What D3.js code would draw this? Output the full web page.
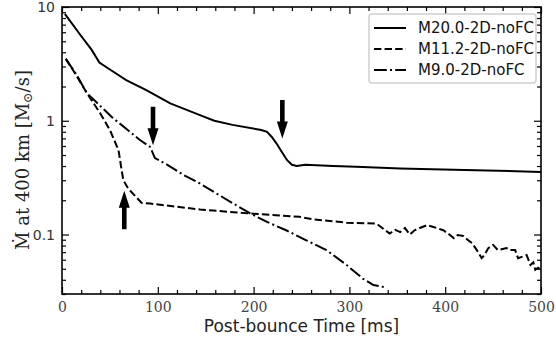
<!DOCTYPE html>
<html>
<head>
<meta charset="utf-8">
<script src="https://cdn.jsdelivr.net/npm/d3@7"></script>
<style>
  body { margin: 0; background: #fff; }
  svg { display: block; }
</style>
</head>
<body>
<div id="chart"></div>
<script>
// Post-bounce time [ms] and mass accretion rate at 400 km [Msun/s]
const timeM20 = [3, 19, 31, 39, 50, 67, 88, 113, 144, 159, 178, 208, 214, 219, 224, 229, 235, 240, 245, 254, 283, 307, 353, 420, 500];
const mdotM20 = [8.7, 5.7, 4.2, 3.25, 2.82, 2.28, 1.86, 1.42, 1.12, 1.0, 0.92, 0.83, 0.80, 0.72, 0.63, 0.54, 0.45, 0.41, 0.40, 0.41, 0.40, 0.394, 0.38, 0.37, 0.355];

const timeM11 = [4, 15, 26, 40, 50, 59, 62, 64, 69, 83, 92, 144, 196, 248, 262, 297, 328, 335, 342, 348, 353, 358, 363, 368, 381, 387, 398, 405, 409, 413, 419, 424, 428, 433, 438, 441, 445, 450, 455, 464, 468, 473, 476, 481, 485, 489, 492, 494, 497, 500];
const mdotM11 = [3.5, 2.5, 1.75, 1.16, 0.83, 0.55, 0.38, 0.30, 0.254, 0.19, 0.187, 0.166, 0.153, 0.143, 0.136, 0.127, 0.125, 0.113, 0.102, 0.11, 0.105, 0.114, 0.10, 0.109, 0.121, 0.117, 0.109, 0.099, 0.093, 0.099, 0.097, 0.089, 0.084, 0.073, 0.062, 0.066, 0.076, 0.081, 0.073, 0.076, 0.073, 0.073, 0.062, 0.064, 0.066, 0.054, 0.057, 0.049, 0.051, 0.049];

const timeM9 = [4, 15, 26, 40, 53, 67, 81, 92, 97, 110, 127, 144, 161, 178, 196, 214, 234, 255, 276, 297, 314, 325, 337];
const mdotM9 = [3.5, 2.55, 1.75, 1.35, 1.06, 0.85, 0.68, 0.59, 0.47, 0.41, 0.333, 0.281, 0.23, 0.189, 0.154, 0.129, 0.109, 0.089, 0.073, 0.054, 0.041, 0.036, 0.0344];

const seriesNames = ["M20.0-2D-noFC", "M11.2-2D-noFC", "M9.0-2D-noFC"];

// arrows: time, tail value, tip value
const arrowTime = [95, 230, 65];
const arrowFrom = [1.33, 1.52, 0.111];
const arrowTo = [0.61, 0.70, 0.242];

const xTicks = [0, 100, 200, 300, 400, 500];
const yTicks = [0.1, 1, 10];

const W = 556, H = 345;
const margin = { top: 7, right: 15, bottom: 51, left: 62 };
const width = W - margin.left - margin.right;
const height = H - margin.top - margin.bottom;

const svg = d3.select("#chart").append("svg")
  .attr("width", W)
  .attr("height", H);

const g = svg.append("g")
  .attr("transform", `translate(${margin.left},${margin.top})`);

const x = d3.scaleLinear().domain([0, 500]).range([0, width]);
const y = d3.scaleLog().domain([0.03, 10]).range([height, 0]);

// minor ticks
const xMinor = d3.range(0, 501, 20).filter(v => v % 100 !== 0);
const yMinor = [];
[0.01, 0.1, 1].forEach(d => {
  for (let k = 2; k <= 9; k++) {
    const v = k * d;
    if (v >= 0.03 - 1e-9 && v <= 10) yMinor.push(+v.toPrecision(3));
  }
});

function styleAxis(sel) {
  sel.select(".domain").remove();
  sel.selectAll(".tick line").attr("stroke", "#000").attr("stroke-width", 1.2);
}

// bottom
g.append("g").attr("transform", `translate(0,${height})`)
  .call(d3.axisBottom(x).tickValues(xTicks).tickSize(-7).tickPadding(8).tickFormat(d3.format("d")))
  .call(styleAxis)
  .call(a => a.selectAll("text")
    .attr("font-family", "DejaVu Serif, serif")
    .attr("font-size", 14)
    .attr("fill", "#444"));
g.append("g").attr("transform", `translate(0,${height})`)
  .call(d3.axisBottom(x).tickValues(xMinor).tickSize(-4).tickFormat(""))
  .call(styleAxis);
// top
g.append("g")
  .call(d3.axisTop(x).tickValues(xTicks).tickSize(-7).tickFormat(""))
  .call(styleAxis);
g.append("g")
  .call(d3.axisTop(x).tickValues(xMinor).tickSize(-4).tickFormat(""))
  .call(styleAxis);
// left
g.append("g")
  .call(d3.axisLeft(y).tickValues(yTicks).tickSize(-7).tickPadding(7).tickFormat(d => d < 1 ? "0.1" : String(d)))
  .call(styleAxis)
  .call(a => a.selectAll("text")
    .attr("font-family", "DejaVu Sans, sans-serif")
    .attr("font-size", 14)
    .attr("fill", "#333"));
g.append("g")
  .call(d3.axisLeft(y).tickValues(yMinor).tickSize(-4).tickFormat(""))
  .call(styleAxis);
// right
g.append("g").attr("transform", `translate(${width},0)`)
  .call(d3.axisRight(y).tickValues(yTicks).tickSize(-7).tickFormat(""))
  .call(styleAxis);
g.append("g").attr("transform", `translate(${width},0)`)
  .call(d3.axisRight(y).tickValues(yMinor).tickSize(-4).tickFormat(""))
  .call(styleAxis);

// clip
svg.append("defs").append("clipPath").attr("id", "clip")
  .append("rect").attr("width", width).attr("height", height);

const line = d3.line()
  .x(d => x(d[0]))
  .y(d => y(d[1]));

const series = [
  { name: seriesNames[0], t: timeM20, v: mdotM20, dash: null },
  { name: seriesNames[1], t: timeM11, v: mdotM11, dash: "7.4,3.2" },
  { name: seriesNames[2], t: timeM9, v: mdotM9, dash: "12.8,3.2,2,3.2" }
];

const plot = g.append("g").attr("clip-path", "url(#clip)");
series.forEach(s => {
  plot.append("path")
    .datum(s.t.map((t, i) => [t, s.v[i]]))
    .attr("fill", "none")
    .attr("stroke", "#000")
    .attr("stroke-width", 2)
    .attr("stroke-dasharray", s.dash)
    .attr("d", line);
});

// arrows
const shaftW = 4.6, headW = 11, headL = 17;
arrowTime.forEach((t, i) => {
  const ax = x(t), y0 = y(arrowFrom[i]), y1 = y(arrowTo[i]);
  const dir = Math.sign(y1 - y0);
  const yb = y1 - dir * headL;
  const pts = [
    [ax - shaftW / 2, y0], [ax + shaftW / 2, y0], [ax + shaftW / 2, yb],
    [ax + headW / 2, yb], [ax, y1], [ax - headW / 2, yb], [ax - shaftW / 2, yb]
  ];
  g.append("path")
    .attr("d", "M" + pts.map(p => p.join(",")).join("L") + "Z")
    .attr("fill", "#000");
});

// frame
g.append("rect")
  .attr("width", width).attr("height", height)
  .attr("fill", "none").attr("stroke", "#000").attr("stroke-width", 1.6);

// legend
const legend = g.append("g").attr("transform", `translate(${width - 172},7)`);
legend.append("rect")
  .attr("width", 167).attr("height", 69)
  .attr("rx", 3)
  .attr("fill", "#fff").attr("fill-opacity", 0.85)
  .attr("stroke", "#d0d0d0").attr("stroke-width", 1.5);
series.forEach((s, i) => {
  const row = legend.append("g").attr("transform", `translate(0,${14 + i * 21})`);
  row.append("line")
    .attr("x1", 5).attr("x2", 37)
    .attr("stroke", "#000").attr("stroke-width", 2)
    .attr("stroke-dasharray", s.dash);
  row.append("text")
    .attr("x", 49).attr("dy", "0.36em")
    .attr("font-family", "DejaVu Sans, sans-serif")
    .attr("font-size", 15)
    .attr("fill", "#111")
    .text(s.name);
});

// axis labels
svg.append("text")
  .attr("x", margin.left + width / 2).attr("y", 332)
  .attr("text-anchor", "middle")
  .attr("font-family", "DejaVu Sans, sans-serif")
  .attr("font-size", 17)
  .attr("fill", "#222")
  .text("Post-bounce Time [ms]");

const yl = svg.append("text")
  .attr("transform", "translate(29,160) rotate(-90)")
  .attr("text-anchor", "middle")
  .attr("font-family", "DejaVu Serif, serif")
  .attr("font-size", 18)
  .attr("fill", "#222");
yl.append("tspan").text("Ṁ at 400 km [M");
yl.append("tspan").attr("font-size", 12.5).attr("dy", 3).text("⊙");
yl.append("tspan").attr("dy", -3).text("/s]");
</script>
</body>
</html>
